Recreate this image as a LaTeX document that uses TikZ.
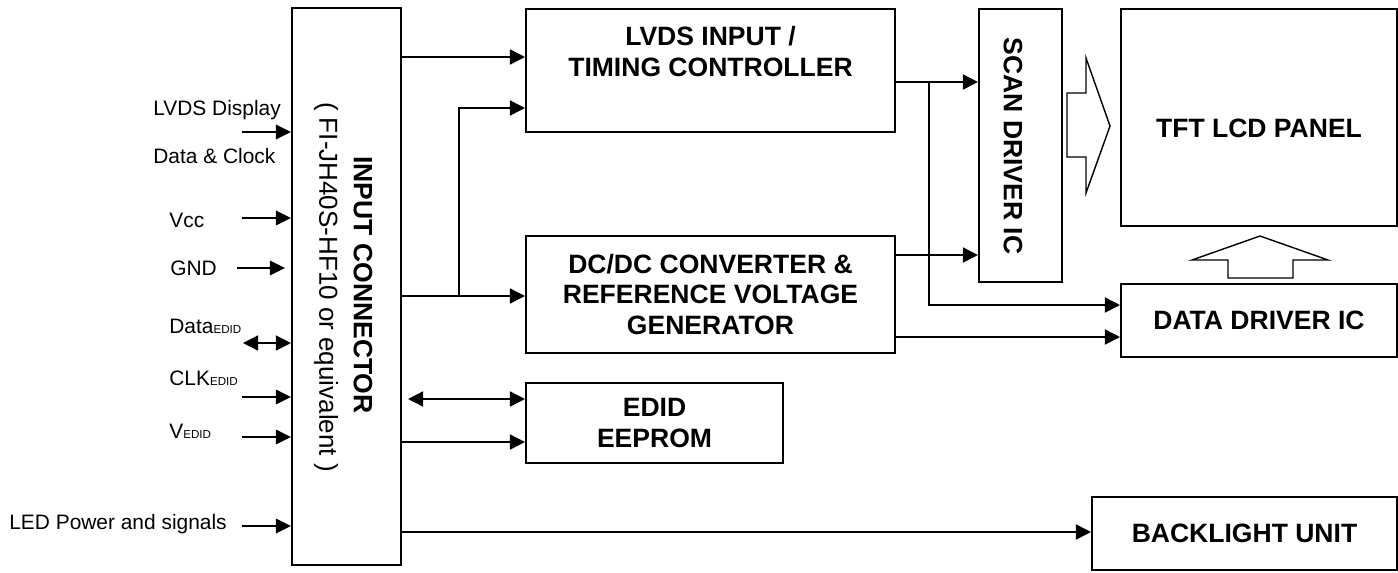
\documentclass[tikz,border=0pt]{standalone}
\usepackage{fontspec}
\setmainfont{Liberation Sans}
\usetikzlibrary{arrows.meta}
\newcommand{\edidsub}{\raisebox{-0.5pt}{\fontsize{6.6pt}{7pt}\selectfont EDID}}
\begin{document}
\begin{tikzpicture}[x=0.02cm,y=-0.02cm,
    btxt/.style={font=\fontsize{15.1pt}{17.6pt}\selectfont\bfseries, align=center, inner sep=0pt},
    blk/.style={draw, line width=1.2pt, inner sep=0pt, btxt},
    lbl/.style={font=\fontsize{11.9pt}{14pt}\selectfont, anchor=base west, inner sep=0pt},
    arr/.style={line width=0.9pt, -{Triangle[length=0.3cm,width=0.3cm]}},
    darr/.style={line width=0.9pt, {Triangle[length=0.3cm,width=0.3cm]}-{Triangle[length=0.3cm,width=0.3cm]}},
    inarr/.style={line width=0.7pt, -{Triangle[length=0.3cm,width=0.29cm]}},
    bigarr/.style={draw, line width=0.8pt, fill=white, line join=miter}]
    \useasboundingbox (0,0) rectangle (1398,572);
    % blocks
    \node[blk, minimum width=2.18cm, minimum height=11.14cm] (conn) at (346.5,286.5) {};
    \node[btxt, rotate=-90] (conntxt) at (363,285) {INPUT CONNECTOR};
    \node[inner sep=0pt, rotate=-90, font=\fontsize{14.8pt}{17pt}\selectfont] (conntype) at (326,287) {( FI-JH40S-HF10 or equivalent )};
    \node[blk, minimum width=7.38cm, minimum height=2.46cm] (lvds) at (710.5,70.5) {};
    \node[btxt] (lvdstxt) at (710.5,51.5) {LVDS INPUT /\\TIMING CONTROLLER};
    \node[blk, minimum width=7.38cm, minimum height=2.34cm] (dcdc) at (710.5,294.5) {DC/DC CONVERTER \&\\REFERENCE VOLTAGE\\GENERATOR};
    \node[blk, minimum width=5.14cm, minimum height=1.6cm] (edid) at (654.5,423) {EDID\\EEPROM};
    \node[blk, minimum width=1.66cm, minimum height=5.46cm] (scan) at (1020.5,145.5) {};
    \node[btxt, rotate=-90] (scantxt) at (1013,146) {SCAN DRIVER IC};
    \node[blk, minimum width=5.52cm, minimum height=4.34cm] (tft) at (1259,117.5) {};
    \node[btxt] (tfttxt) at (1259,128) {TFT LCD PANEL};
    \node[blk, minimum width=5.52cm, minimum height=1.46cm] (ddrv) at (1259,320.5) {DATA DRIVER IC};
    \node[blk, minimum width=6.1cm, minimum height=1.46cm] (blu) at (1244.5,533.5) {BACKLIGHT UNIT};
    % block arrows
    \draw[bigarr] (1067,93) -- (1086,93) -- (1086,58) -- (1110,126) -- (1086,193) -- (1086,157) -- (1067,157) -- cycle;
    \draw[bigarr] (1228,278) -- (1228,260) -- (1192,260) -- (1260,236) -- (1328,260) -- (1293,260) -- (1293,278) -- cycle;
    % input labels
    \node[lbl] (lvdsa) at (153,115) {LVDS Display};
    \node[lbl] (lvdsb) at (153,163) {Data \& Clock};
    \node[lbl] (vcc) at (169,227) {Vcc};
    \node[lbl] (gnd) at (170,275) {GND};
    \node[lbl] (dataedid) at (169,333) {Data\edidsub};
    \node[lbl] (clkedid) at (169,385) {CLK\edidsub};
    \node[lbl] (vedid) at (169,438) {V\edidsub};
    \node[lbl] (led) at (9,529) {LED Power and signals};
    % inputs
    \coordinate (inlvds) at (242,132);
    \coordinate (invcc) at (242,218);
    \coordinate (ingnd) at (237,268);
    \coordinate (indata) at (243,343);
    \coordinate (inclk) at (242,397);
    \coordinate (inv) at (242,437);
    \coordinate (inled) at (242,526);
    \draw[inarr] (inlvds) -- (conn.west |- inlvds);
    \draw[inarr] (invcc) -- (conn.west |- invcc);
    \draw[inarr, shorten >=0.12cm] (ingnd) -- (conn.west |- ingnd);
    \draw[darr, line width=0.7pt] (indata) -- (conn.west |- indata);
    \draw[inarr] (inclk) -- (conn.west |- inclk);
    \draw[inarr] (inv) -- (conn.west |- inv);
    \draw[inarr] (inled) -- (conn.west |- inled);
    % connections
    \coordinate (br1) at (459,296);
    \coordinate (br2) at (929,82);
    \draw[arr] (conn.east |- 0,57) -- (lvds.west |- 0,57);
    \draw[arr] (conn.east |- br1) -- (dcdc.west |- br1);
    \draw[arr] (br1) |- (lvds.west |- 0,108);
    \draw[darr, shorten <=0.12cm] (conn.east |- 0,399) -- (edid.west |- 0,399);
    \draw[arr] (conn.east |- 0,442) -- (edid.west |- 0,442);
    \draw[arr] (conn.east |- 0,532) -- (blu.west |- 0,532);
    \draw[arr] (lvds.east |- br2) -- (scan.west |- br2);
    \draw[arr] (br2) |- (ddrv.west |- 0,305);
    \draw[arr] (dcdc.east |- 0,255) -- (scan.west |- 0,255);
    \draw[arr] (dcdc.east |- 0,337) -- (ddrv.west |- 0,337);
\end{tikzpicture}
\end{document}
